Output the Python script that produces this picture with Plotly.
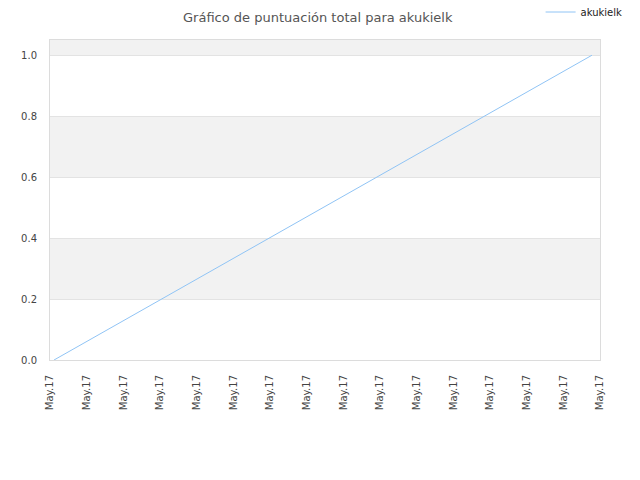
import plotly.graph_objects as go

# data
series_name = "akukielk"
x_pos = [0.11, 14.78]
scores = [0.0, 1.0]
tick_pos = list(range(16))
tick_text = ["May.17"] * 16
band_edges = [(0.2, 0.4), (0.6, 0.8), (1.0, 1.2)]

fig = go.Figure()
fig.add_trace(go.Scatter(x=x_pos, y=scores, mode="lines", name=series_name,
                         line=dict(color="#90c4f5", width=1)))

for lo, hi in band_edges:
    fig.add_shape(type="rect", xref="paper", yref="y", x0=0, x1=1, y0=lo, y1=hi,
                  fillcolor="#f2f2f2", line_width=0, layer="below")

fig.update_layout(
    width=640, height=480,
    margin=dict(l=42, r=48, t=32, b=128, autoexpand=False),
    paper_bgcolor="white", plot_bgcolor="white",
    font=dict(family="DejaVu Sans", size=10, color="#444"),
    title=dict(text="Gráfico de puntuación total para akukielk", x=0.484, y=0.98,
               xanchor="center", yanchor="middle", font=dict(size=13, color="#555")),
    showlegend=True,
    legend=dict(x=0.892, y=1.0875, xanchor="left", yanchor="middle", orientation="h",
                itemwidth=30, font=dict(size=10, color="#222"),
                bgcolor="rgba(0,0,0,0)"),
)
fig.update_xaxes(range=[0, 15], tickvals=tick_pos, ticktext=tick_text, tickangle=-90,
                 showgrid=False, zeroline=False, showline=True, linecolor="#dcdcdc",
                 mirror=True, ticks="", ticklabelstandoff=10, automargin=False,
                 tickfont=dict(size=10, color="#444"))
fig.update_yaxes(range=[0, 1.05], tickvals=[0, 0.2, 0.4, 0.6, 0.8, 1.0],
                 ticktext=["0.0", "0.2", "0.4", "0.6", "0.8", "1.0"],
                 showgrid=True, gridcolor="#e3e3e3", zeroline=False, showline=True,
                 linecolor="#dcdcdc", mirror=True, ticks="", ticklabelstandoff=10,
                 automargin=False, tickfont=dict(size=10, color="#444"))

fig.write_html("out.html")
